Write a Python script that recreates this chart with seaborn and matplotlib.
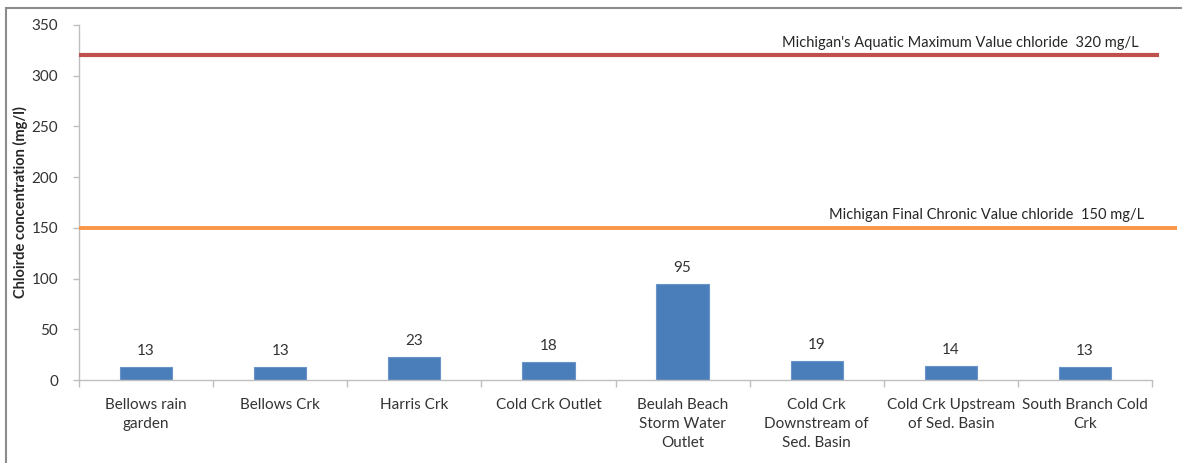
import matplotlib
matplotlib.use("Agg")
import matplotlib.pyplot as plt
import seaborn as sns
import pandas as pd
from matplotlib.patches import Rectangle

# Sampling sites and measured chloride concentrations (mg/l)
sites = [
    "Bellows rain\ngarden",
    "Bellows Crk",
    "Harris Crk",
    "Cold Crk Outlet",
    "Beulah Beach\nStorm Water\nOutlet",
    "Cold Crk\nDownstream of\nSed. Basin",
    "Cold Crk Upstream\nof Sed. Basin",
    "South Branch Cold\nCrk",
]
chloride = [13, 13, 23, 18, 95, 19, 14, 13]

# Michigan water-quality reference values (mg/L)
aquatic_max = 320
final_chronic = 150
aquatic_max_label = "Michigan's Aquatic Maximum Value chloride  320 mg/L"
final_chronic_label = "Michigan Final Chronic Value chloride  150 mg/L"

y_ticks = [0, 50, 100, 150, 200, 250, 300, 350]

sns.set_theme(style="white")
plt.rcParams["font.family"] = ["Lato", "DejaVu Sans"]

df = pd.DataFrame({"site": sites, "chloride": chloride})

fig = plt.figure(figsize=(11.82, 4.63), dpi=100)
ax = fig.add_axes([79 / 1182, 1 - 380 / 463, 1073 / 1182, 355 / 463])

sns.barplot(data=df, x="site", y="chloride", color="#4A7EBB", width=0.39,
            saturation=1, edgecolor="#6A94C8", linewidth=0.8, ax=ax)

for cont in ax.containers:
    ax.bar_label(cont, labels=[str(v) for v in chloride], padding=6,
                 fontsize=11, color="#333333")

# Reference lines, running slightly past the plot area
ax.plot([-0.5, 7.55], [aquatic_max, aquatic_max], color="#C0504D",
        lw=3.0, solid_capstyle="butt", clip_on=False, zorder=3)
ax.plot([-0.5, 7.69], [final_chronic, final_chronic], color="#F79646",
        lw=2.8, solid_capstyle="butt", clip_on=False, zorder=3)

ax.text(7.40, aquatic_max + 12, aquatic_max_label, ha="right", va="center",
        fontsize=10.5, color="#262626")
ax.text(7.44, final_chronic + 13, final_chronic_label, ha="right", va="center",
        fontsize=10.5, color="#262626")

ax.set_xlim(-0.5, 7.5)
ax.set_ylim(0, 350)
ax.set_yticks(y_ticks)
ax.set_yticklabels([str(t) for t in y_ticks], fontsize=11, color="#333333")
ax.set_xticks(range(len(sites)))
ax.set_xticklabels(sites, fontsize=11, color="#333333", linespacing=1.45)
ax.set_xticks([i - 0.5 for i in range(len(sites) + 1)], minor=True)
ax.tick_params(axis="x", which="major", length=0, pad=13)
ax.tick_params(axis="x", which="minor", length=5, color="#BFBFBF", width=1,
               direction="out", bottom=True)
ax.tick_params(axis="y", length=4, color="#BFBFBF", width=1, direction="out",
               left=True, pad=11)

ax.set_xlabel("")
ax.set_ylabel("Chloirde concentration (mg/l)", fontsize=10.5,
              fontweight="bold", color="#262626", va="center")
ax.yaxis.set_label_coords(-0.0545, 0.5)

for side in ["top", "right"]:
    ax.spines[side].set_visible(False)
for side in ["left", "bottom"]:
    ax.spines[side].set_color("#BFBFBF")
    ax.spines[side].set_linewidth(1)

# Chart frame along the top and left edges
fig.patches.append(Rectangle((6 / 1182, -0.1), 1.2, (463 - 8) / 463 + 0.1,
                             transform=fig.transFigure, fill=False,
                             edgecolor="#8C8C8C", linewidth=1.5))

fig.savefig("out.png", dpi=100)
